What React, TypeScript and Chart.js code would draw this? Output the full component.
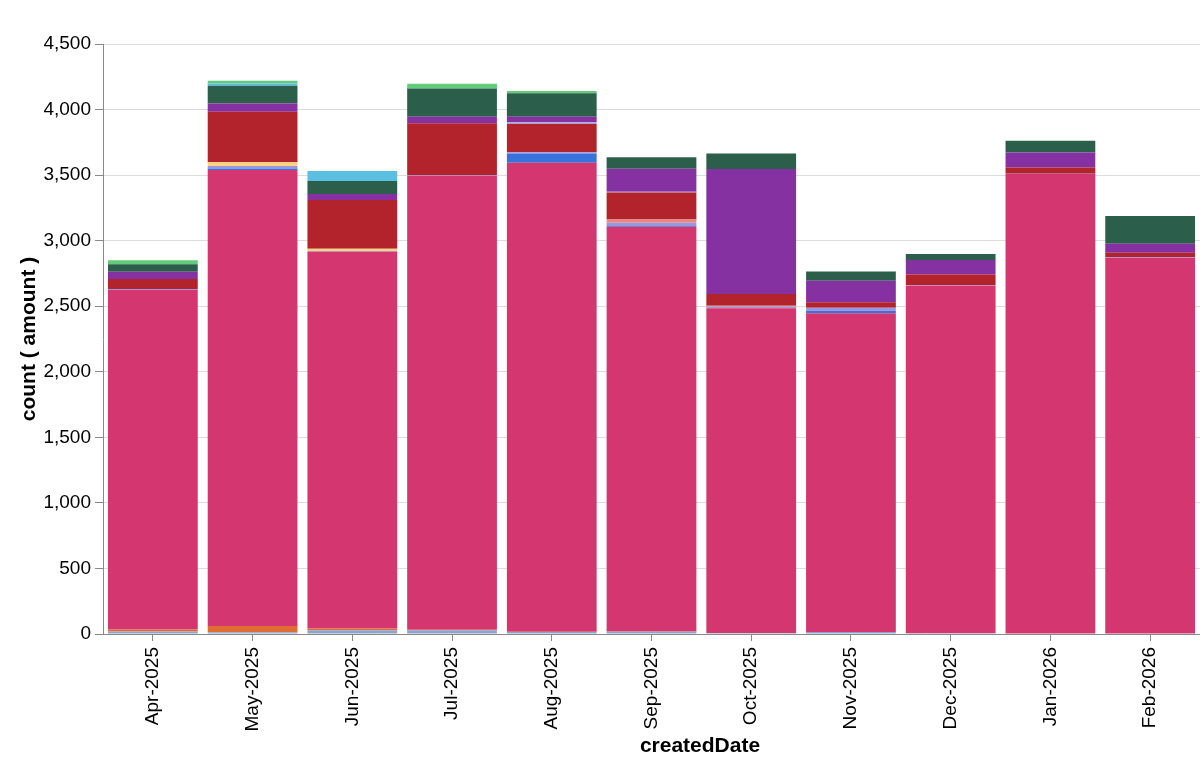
import React, { useEffect, useRef } from "react";
import { Chart, registerables } from "chart.js";

Chart.register(...registerables);

const months = [
  "Apr-2025", "May-2025", "Jun-2025", "Jul-2025", "Aug-2025", "Sep-2025",
  "Oct-2025", "Nov-2025", "Dec-2025", "Jan-2026", "Feb-2026",
];

// stacked series, bottom to top
const seriesBlueGray = [20, 13, 28, 28, 15, 18, 8, 15, 6, 4, 4];
const seriesOrange = [15, 48, 14, 4, 3, 2, 0, 0, 0, 0, 0];
const seriesPink = [2588, 3478, 2873, 3463, 3577, 3087, 2476, 2431, 2651, 3504, 2866];
const seriesBlue = [0, 12, 0, 0, 69, 8, 0, 18, 0, 0, 0];
const seriesPeriwinkle = [8, 18, 6, 6, 10, 22, 12, 25, 3, 3, 5];
const seriesYellow = [0, 30, 18, 0, 0, 0, 0, 0, 0, 0, 0];
const seriesSalmon = [0, 0, 0, 0, 0, 25, 8, 0, 0, 0, 0];
const seriesRed = [76, 384, 371, 394, 216, 206, 89, 41, 81, 48, 33];
const seriesLavender = [0, 0, 0, 0, 13, 6, 0, 0, 0, 0, 0];
const seriesPurple = [56, 64, 46, 51, 43, 175, 953, 165, 112, 114, 69];
const seriesDarkGreen = [58, 134, 99, 214, 178, 88, 119, 69, 46, 89, 211];
const seriesLightBlue = [0, 18, 76, 0, 0, 0, 0, 0, 0, 0, 0];
const seriesLightGreen = [30, 20, 0, 36, 18, 0, 0, 0, 0, 0, 0];

const yTicksMax = 4500;
const yTickStep = 500;

const FONT = "'Liberation Sans', Arial, Helvetica, sans-serif";

export default function App() {
  const ref = useRef<HTMLCanvasElement>(null);

  useEffect(() => {
    document.body.style.margin = "0";
    document.body.style.overflow = "hidden";
    const canvas = ref.current;
    if (!canvas) return;

    const mk = (label: string, data: number[], color: string) => ({
      label,
      data,
      backgroundColor: color,
      borderWidth: 0,
      categoryPercentage: 0.9,
      barPercentage: 1.0,
    });

    const xTitlePlugin = {
      id: "xTitle",
      afterDraw(chart: any) {
        const ctx = chart.ctx;
        const area = chart.chartArea;
        ctx.save();
        ctx.font = `bold 21px ${FONT}`;
        ctx.fillStyle = "#000";
        ctx.textAlign = "center";
        ctx.textBaseline = "middle";
        ctx.fillText("createdDate", area.left + 597, area.bottom + 112);
        ctx.restore();
      },
    };

    const chart = new Chart(canvas, {
      type: "bar",
      data: {
        labels: months,
        datasets: [
          mk("bluegray", seriesBlueGray, "#8fa4cb"),
          mk("orange", seriesOrange, "#de6d33"),
          mk("pink", seriesPink, "#d4366f"),
          mk("blue", seriesBlue, "#3a72dc"),
          mk("periwinkle", seriesPeriwinkle, "#9c97e0"),
          mk("yellow", seriesYellow, "#f9d27c"),
          mk("salmon", seriesSalmon, "#ea8880"),
          mk("red", seriesRed, "#b2232b"),
          mk("lavender", seriesLavender, "#b0a0d8"),
          mk("purple", seriesPurple, "#8531a2"),
          mk("darkgreen", seriesDarkGreen, "#2c5f4b"),
          mk("lightblue", seriesLightBlue, "#5bbfe1"),
          mk("lightgreen", seriesLightGreen, "#62cc78"),
        ],
      },
      options: {
        responsive: false,
        animation: false,
        devicePixelRatio: 1,
        layout: { padding: { top: 44, right: 0, left: 0, bottom: 0 } },
        plugins: {
          legend: { display: false },
          tooltip: { enabled: false },
        },
        scales: {
          x: {
            stacked: true,
            grid: {
              offset: false,
              drawOnChartArea: false,
              drawTicks: true,
              tickLength: 7,
              tickColor: "#888",
            },
            border: { color: "#888", width: 1 },
            ticks: {
              autoSkip: false,
              maxRotation: 90,
              minRotation: 90,
              padding: 6,
              color: "#000",
              font: { family: FONT, size: 19 },
            },
            title: { display: false },
            afterFit: (s: any) => {
              s.height = 144;
              s.paddingLeft = 0;
              s.paddingRight = 0;
            },
          },
          y: {
            stacked: true,
            min: 0,
            max: yTicksMax,
            grid: {
              color: "#dcdcdc",
              lineWidth: 1,
              drawTicks: true,
              tickLength: 8,
              tickColor: "#888",
            },
            border: { color: "#888", width: 1 },
            ticks: {
              stepSize: yTickStep,
              padding: 4,
              color: "#000",
              font: { family: FONT, size: 19 },
            },
            title: {
              display: true,
              text: "count ( amount )",
              color: "#000",
              font: { family: FONT, size: 21, weight: "bold" },
              padding: { top: 17, bottom: 0 },
            },
            afterFit: (s: any) => {
              s.width = 103;
            },
          },
        },
      },
      plugins: [xTitlePlugin],
    } as any);

    return () => chart.destroy();
  }, []);

  return (
    <canvas
      ref={ref}
      width={1200}
      height={778}
      style={{ display: "block", width: 1200, height: 778 }}
    />
  );
}
